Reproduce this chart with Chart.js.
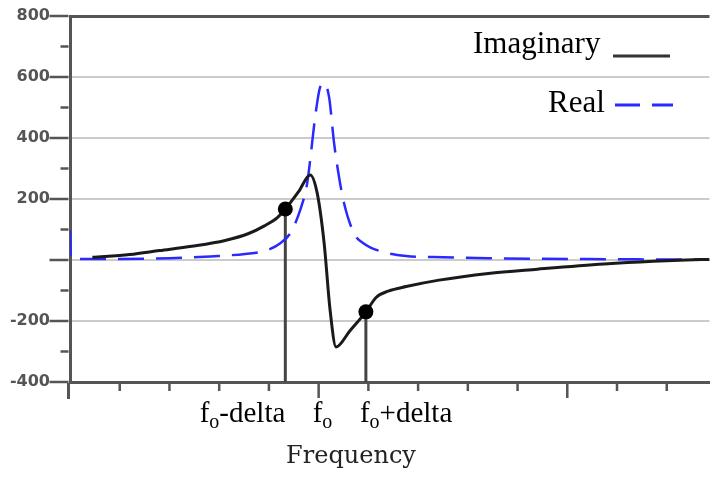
<!DOCTYPE html>
<html>
<head>
<meta charset="utf-8">
<script src="https://cdn.jsdelivr.net/npm/chart.js@4"></script>
<style>
  body { margin: 0; background: #fff; }
  canvas { display: block; }
</style>
</head>
<body>
<canvas id="chart" width="717" height="477"></canvas>
<script>
// values, x in tick units (one minor tick = 1)
const imagX = [0.45, 1.2, 1.8, 2.45, 3.12, 3.58, 3.91, 4.17, 4.33, 4.6, 4.83, 4.97, 5.11, 5.23, 5.35, 5.63, 5.95, 6.16, 6.4, 6.76, 7.42, 8.41, 9.4, 10.74, 11.73, 12.39, 12.86];
const imagY = [9, 18, 31, 45, 64, 86, 112, 139, 167, 225, 279, 220, 56, -164, -285, -232, -170, -122, -102, -87, -66, -44, -30, -13, -4, 0, 2];

const realX = [0, 0.02, 0.5, 1.5, 2.0, 2.45, 2.98, 3.52, 3.92, 4.23, 4.43, 4.63, 4.77, 4.83, 4.93, 5.03, 5.11, 5.21, 5.31, 5.41, 5.51, 5.71, 5.9, 6.3, 6.76, 7.5, 8.41, 10.4, 12.86];
const realY = [98, 3, 3, 4, 6, 9, 13, 20, 30, 55, 88, 164, 252, 328, 469, 567, 580, 534, 384, 272, 187, 88, 55, 26, 13, 9, 6, 3, 1];

// f0 - delta and f0 + delta points on the imaginary curve
const markerX = [4.33, 5.95];
const markerY = [167, -170];
const f0 = 5;

const yTickLabels = [800, 600, 400, 200, -200, -400];
const xLabelValues = [markerX[0], f0, markerX[1]];
const xLabelSuffix = ["-delta", "", "+delta"];
const legendLabels = ["Imaginary", "Real"];
const xTitle = "Frequency";

const pts = (xs, ys) => xs.map((x, i) => ({ x: x, y: ys[i] }));

const decor = {
  id: "decor",
  afterDraw(chart) {
    const { ctx, chartArea } = chart;
    const x = chart.scales.x, y = chart.scales.y;
    const left = chartArea.left - 1.5, bottom = chartArea.bottom + 1;
    ctx.save();
    ctx.strokeStyle = "#555";
    ctx.lineWidth = 3;
    ctx.beginPath();
    ctx.moveTo(left, bottom);
    ctx.lineTo(left, bottom + 16);
    ctx.stroke();

    // tick marks
    ctx.lineWidth = 2.5;
    y.ticks.forEach(t => {
      const py = y.getPixelForValue(t.value);
      const len = t.value % 200 === 0 ? 19 : 8;
      ctx.beginPath();
      ctx.moveTo(left - len, py);
      ctx.lineTo(left, py);
      ctx.stroke();
    });
    x.ticks.forEach(t => {
      if (!Number.isInteger(t.value) || t.value === 0) return;
      const px = x.getPixelForValue(t.value);
      const len = t.value % 5 === 0 ? 15 : 8;
      ctx.beginPath();
      ctx.moveTo(px, bottom);
      ctx.lineTo(px, bottom + len);
      ctx.stroke();
    });

    // x labels: f with subscript o
    ctx.fillStyle = "#000";
    ctx.textBaseline = "alphabetic";
    ctx.textAlign = "left";
    const big = '29px "Liberation Serif"', small = '20px "Liberation Serif"';
    xLabelValues.forEach((v, i) => {
      const px = x.getPixelForValue(v);
      ctx.font = big;
      const wf = ctx.measureText("f").width, ws = ctx.measureText(xLabelSuffix[i]).width;
      ctx.font = small;
      const wo = ctx.measureText("o").width;
      const start = i === 0 ? px - (wf + wo + ws) : px - 6;
      ctx.font = big;
      ctx.fillText("f", start, 422);
      ctx.fillText(xLabelSuffix[i], start + wf + wo, 422);
      ctx.font = small;
      ctx.fillText("o", start + wf, 428);
    });

    ctx.font = '24px "DejaVu Serif"';
    ctx.fillStyle = "#222";
    ctx.textAlign = "center";
    ctx.fillText(xTitle, 351, 463);

    // legend
    ctx.font = '31px "Liberation Serif"';
    ctx.fillStyle = "#000";
    ctx.textAlign = "left";
    ctx.fillText(legendLabels[0], 473, 53);
    ctx.fillText(legendLabels[1], 548, 112);
    ctx.strokeStyle = "#333";
    ctx.lineWidth = 3;
    ctx.beginPath();
    ctx.moveTo(613, 56);
    ctx.lineTo(670, 56);
    ctx.stroke();
    ctx.strokeStyle = "#2a2aff";
    ctx.beginPath();
    ctx.moveTo(615, 105);
    ctx.lineTo(640, 105);
    ctx.moveTo(652, 105);
    ctx.lineTo(673, 105);
    ctx.stroke();
    ctx.restore();
  }
};

new Chart(document.getElementById("chart"), {
  type: "line",
  data: {
    datasets: [
      {
        label: "markers",
        data: pts(markerX, markerY),
        showLine: false,
        pointRadius: 7.5,
        pointBackgroundColor: "#000",
        pointBorderWidth: 0
      },
      {
        label: "Imaginary",
        data: pts(imagX, imagY),
        borderColor: "#1a1a1a",
        borderWidth: 3,
        pointRadius: 0,
        cubicInterpolationMode: "monotone"
      },
      {
        label: "Real",
        data: pts(realX, realY),
        borderColor: "#2a2aff",
        borderWidth: 2.5,
        borderDash: [26, 12],
        pointRadius: 0,
        cubicInterpolationMode: "monotone"
      },
      {
        label: "drop1",
        data: [{ x: markerX[0], y: markerY[0] }, { x: markerX[0], y: -400 }],
        borderColor: "#444",
        borderWidth: 3,
        pointRadius: 0
      },
      {
        label: "drop2",
        data: [{ x: markerX[1], y: markerY[1] }, { x: markerX[1], y: -400 }],
        borderColor: "#444",
        borderWidth: 3,
        pointRadius: 0
      }
    ]
  },
  options: {
    responsive: false,
    animation: false,
    devicePixelRatio: 1,
    layout: { padding: { top: 16, right: 0, left: 0, bottom: 0 } },
    plugins: { legend: { display: false }, tooltip: { enabled: false } },
    scales: {
      x: {
        type: "linear",
        min: 0,
        max: 12.86,
        ticks: { stepSize: 1, display: false, includeBounds: false },
        grid: { display: false },
        border: { display: true, color: "#555", width: 3 },
        afterFit(scale) { scale.height = 95; }
      },
      y: {
        min: -400,
        max: 800,
        ticks: {
          stepSize: 100,
          padding: 20,
          color: "#555",
          font: { family: "DejaVu Sans", size: 16, weight: "bold" },
          callback: v => yTickLabels.includes(v) ? String(v) : ""
        },
        grid: {
          drawTicks: false,
          color: c => c.tick.value === 800 ? "#555" : (c.tick.value % 200 === 0 && c.tick.value !== -400 ? "#cbcbcb" : "rgba(0,0,0,0)"),
          lineWidth: c => c.tick.value === 800 ? 3 : 2
        },
        border: { display: true, color: "#555", width: 3 },
        afterFit(scale) {
          scale.width = 70;
          scale.paddingTop = 0;
          scale.paddingBottom = 0;
        }
      }
    }
  },
  plugins: [decor]
});
</script>
</body>
</html>
